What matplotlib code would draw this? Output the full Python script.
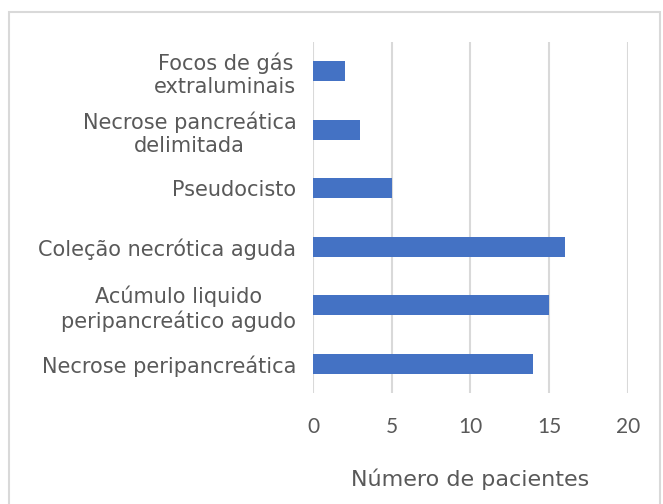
import matplotlib.pyplot as plt
from matplotlib.patches import Rectangle

categories = ['Necrose peripancreática',
              'Acúmulo liquido\nperipancreático agudo',
              'Coleção necrótica aguda',
              'Pseudocisto',
              'Necrose pancreática\ndelimitada',
              'Focos de gás\nextraluminais']
patients = [14, 15, 16, 5, 3, 2]
x_ticks = [0, 5, 10, 15, 20]

fig = plt.figure(figsize=(6.63, 5.04), dpi=100)
ax = fig.add_axes([0.4721, 0.2202, 0.4751, 0.6964])

pos = list(range(len(categories)))
ax.barh(pos, patients, height=0.34, color='#4472C4', zorder=3)

ax.set_xlim(0, 20)
ax.set_ylim(-0.5, len(categories) - 0.5)
ax.set_xticks(x_ticks)
ax.set_xticklabels([str(t) for t in x_ticks], fontfamily='Lato', fontsize=15, color='#595959')
ax.set_yticks(pos)
ax.set_yticklabels(categories, fontfamily='DejaVu Sans', fontsize=15, color='#595959',
                   ha='right', multialignment='center', linespacing=1.2)
ax.tick_params(axis='both', length=0)
ax.tick_params(axis='x', pad=17)
ax.tick_params(axis='y', pad=12)
ax.grid(axis='x', color='#d9d9d9', linewidth=1.5, zorder=0)
for s in ax.spines.values():
    s.set_visible(False)

ax.set_xlabel('Número de pacientes', fontfamily='DejaVu Sans', fontsize=16,
              color='#595959', labelpad=23)

# light border around the chart
fig.patches.append(Rectangle((9 / 663, -0.01), 651 / 663, 1 - 12 / 504 + 0.01,
                             transform=fig.transFigure, fill=False,
                             edgecolor='#d9d9d9', linewidth=1.5))

fig.savefig('out.png', dpi=100, facecolor='white')
